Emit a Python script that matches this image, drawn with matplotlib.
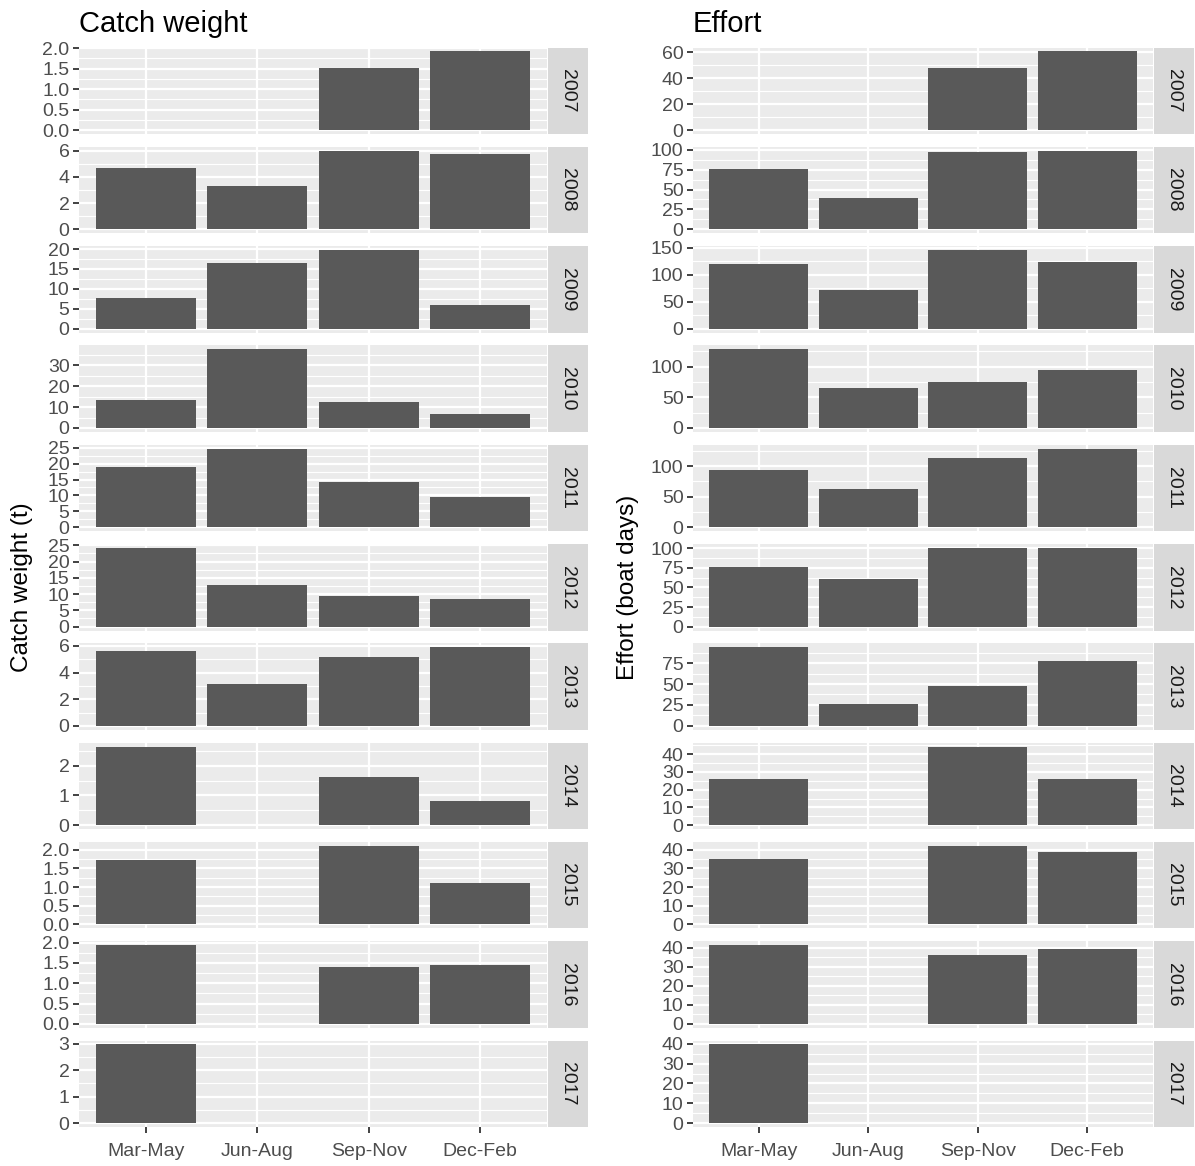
import numpy as np
import matplotlib.pyplot as plt

plt.rcParams["font.family"] = ["Liberation Sans", "DejaVu Sans"]

nan = np.nan
seasons = ["Mar-May", "Jun-Aug", "Sep-Nov", "Dec-Feb"]
years = [2007, 2008, 2009, 2010, 2011, 2012, 2013, 2014, 2015, 2016, 2017]

# catch weight (t) per year, by season
catch = [
    [nan, nan, 1.52, 1.92],
    [4.7, 3.28, 6.0, 5.77],
    [7.6, 16.4, 19.75, 5.95],
    [13.2, 37.6, 12.6, 6.7],
    [18.9, 24.7, 14.1, 9.5],
    [24.2, 12.65, 9.5, 8.45],
    [5.65, 3.17, 5.16, 5.9],
    [2.65, nan, 1.63, 0.82],
    [1.71, nan, 2.1, 1.12],
    [1.94, nan, 1.39, 1.44],
    [2.98, nan, nan, nan],
]
# effort (boat days) per year, by season
effort = [
    [nan, nan, 48, 60.7],
    [75.5, 38.8, 97, 98.7],
    [120.5, 71, 145.5, 123.5],
    [128, 64.5, 75.5, 95],
    [93, 62.6, 112.5, 128.5],
    [76.5, 61, 100.5, 100.5],
    [94, 26, 48, 77.7],
    [26, nan, 44.3, 26],
    [35, nan, 42, 38.8],
    [41.4, nan, 36, 39.5],
    [39.7, nan, nan, nan],
]
catch_ticks = [
    [0, 0.5, 1.0, 1.5, 2.0], [0, 2, 4, 6], [0, 5, 10, 15, 20], [0, 10, 20, 30],
    [0, 5, 10, 15, 20, 25], [0, 5, 10, 15, 20, 25], [0, 2, 4, 6], [0, 1, 2],
    [0, 0.5, 1.0, 1.5, 2.0], [0, 0.5, 1.0, 1.5, 2.0], [0, 1, 2, 3],
]
effort_ticks = [
    [0, 20, 40, 60], [0, 25, 50, 75, 100], [0, 50, 100, 150], [0, 50, 100],
    [0, 50, 100], [0, 25, 50, 75, 100], [0, 25, 50, 75], [0, 10, 20, 30, 40],
    [0, 10, 20, 30, 40], [0, 10, 20, 30, 40], [0, 10, 20, 30, 40],
]

W, H = 1195, 1166
fig = plt.figure(figsize=(W / 100, H / 100), dpi=100)
fig.patch.set_facecolor("white")

top0, pitch, ph = 47.5, 99.3, 86.5
ts = 14


def panel(x0, x1, sx0, sx1, data, ticks, title, ylabel, ylab_x):
    for i, yr in enumerate(years):
        top = top0 + i * pitch
        ax = fig.add_axes([x0 / W, 1 - (top + ph) / H, (x1 - x0) / W, ph / H])
        vals = np.array(data[i], dtype=float)
        ok = ~np.isnan(vals)
        xs = np.arange(4)
        ax.bar(xs[ok], vals[ok], width=0.9, color="#595959", zorder=3)
        ymax = np.nanmax(vals)
        ax.set_ylim(-0.05 * ymax, 1.05 * ymax)
        ax.set_xlim(-0.6, 3.6)
        ax.set_facecolor("#EBEBEB")
        for s in ax.spines.values():
            s.set_visible(False)
        t = ticks[i]
        ax.set_yticks(t)
        if any(v != int(v) for v in t):
            ax.set_yticklabels(["%.1f" % v for v in t])
        else:
            ax.set_yticklabels(["%d" % v for v in t])
        d = t[1] - t[0]
        minors = [v - d / 2 for v in t] + [t[-1] + d / 2]
        lo, hi = ax.get_ylim()
        ax.set_yticks([m for m in minors if lo <= m <= hi], minor=True)
        ax.set_xticks(xs)
        ax.grid(which="major", color="white", lw=1.6, zorder=1)
        ax.yaxis.grid(which="minor", color="white", lw=0.85, zorder=1)
        ax.set_axisbelow(True)
        ax.tick_params(axis="y", which="major", length=4.3, width=1.3, color="#333333",
                       labelcolor="#4D4D4D", labelsize=ts, pad=2.5)
        ax.tick_params(axis="y", which="minor", length=0)
        if i == len(years) - 1:
            ax.set_xticklabels(seasons)
            ax.tick_params(axis="x", length=4.3, width=1.3, color="#333333",
                           labelcolor="#4D4D4D", labelsize=ts, pad=7)
        else:
            ax.tick_params(axis="x", length=0, labelbottom=False)
        # facet strip
        sax = fig.add_axes([sx0 / W, 1 - (top + ph) / H, (sx1 - sx0) / W, ph / H])
        sax.set_facecolor("#D9D9D9")
        sax.set_xticks([])
        sax.set_yticks([])
        for s in sax.spines.values():
            s.set_visible(False)
        sax.text(0.5, 0.5, str(yr), rotation=-90, ha="center", va="center",
                 fontsize=ts, color="#1A1A1A", transform=sax.transAxes)
    fig.text(x0 / W, 1 - 32 / H, title, fontsize=21, color="black", ha="left", va="baseline")
    fig.text(ylab_x / W, 1 - (top0 + 10 * pitch + ph + top0) / 2 / H, ylabel, rotation=90,
             fontsize=17.5, ha="center", va="center")


panel(79, 547, 548, 588, catch, catch_ticks, "Catch weight", "Catch weight (t)", 22)
panel(693, 1153, 1154, 1194, effort, effort_ticks, "Effort", "Effort (boat days)", 628)

fig.savefig("out.png", dpi=100)
